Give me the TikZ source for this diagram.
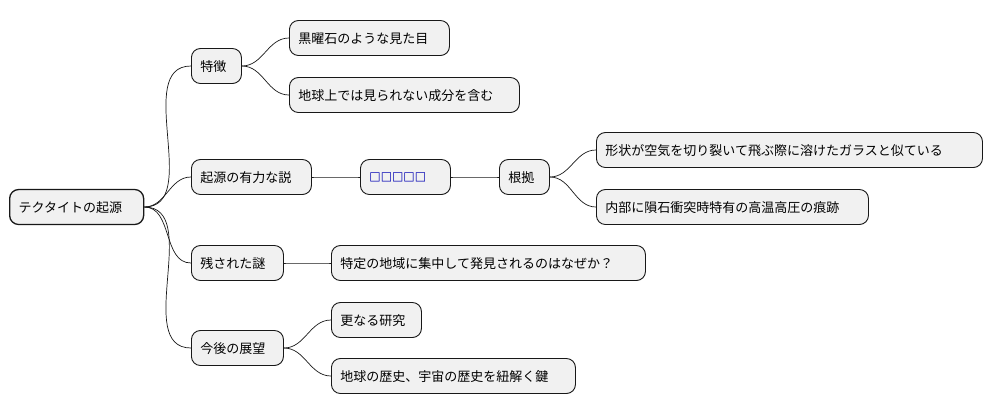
\documentclass[tikz,border=0pt]{standalone}
\usepackage{fontspec}
\setmainfont{Noto Sans CJK JP}
\newfontfamily\symfont{DejaVu Sans}
\definecolor{boxfill}{HTML}{F1F1F1}
\definecolor{boxline}{HTML}{181818}
\begin{document}
\begin{tikzpicture}
	[x=1pt, y=-1pt, font=\fontsize{13}{14}\selectfont,
	 topic/.style={draw=boxline, fill=boxfill, rounded corners=9pt, line width=0.9pt,
	   anchor=west, minimum height=35pt, inner xsep=9pt, text depth=0pt, align=left},
	 wd/.style={text width=#1pt-18pt},
	 link/.style={draw=boxline, line width=0.7pt}]
   \useasboundingbox (0,0) rectangle (993,416);
   \node[topic, line width=1.3pt, wd=134] (root) at (9,207) {テクタイトの起源};
   \node[topic, wd=50] (feat) at (191,66) {特徴};
   \node[topic, wd=160] (look) at (289,38) {黒曜石のような見た目};
   \node[topic, wd=230] (comp) at (289,95) {地球上では見られない成分を含む};
   \node[topic, wd=120] (theory) at (191,177) {起源の有力な説};
   \node[topic, wd=90, font=\symfont\fontsize{12}{14}\selectfont] (unk) at (360,177) {\textcolor{blue!70!black}{□□□□□}};
   \node[topic, wd=50] (basis) at (499,177) {根拠};
   \node[topic, wd=386] (shape) at (596,150) {形状が空気を切り裂いて飛ぶ際に溶けたガラスと似ている};
   \node[topic, wd=272] (trace) at (596,207) {内部に隕石衝突時特有の高温高圧の痕跡};
   \node[topic, wd=92] (myst) at (191,263) {残された謎};
   \node[topic, wd=314] (why) at (331,263) {特定の地域に集中して発見されるのはなぜか？};
   \node[topic, wd=92] (future) at (191,348) {今後の展望};
   \node[topic, wd=90] (study) at (331,320) {更なる研究};
   \node[topic, wd=244] (hist) at (331,376) {地球の歴史、宇宙の歴史を紐解く鍵};
   \foreach \a/\b in {root/feat, root/theory, root/myst, root/future,
                      feat/look, feat/comp, theory/unk, unk/basis,
                      basis/shape, basis/trace, myst/why, future/study, future/hist}
     \draw[link] (\a.east) to[out=0, in=180] (\b.west);
\end{tikzpicture}
\end{document}
